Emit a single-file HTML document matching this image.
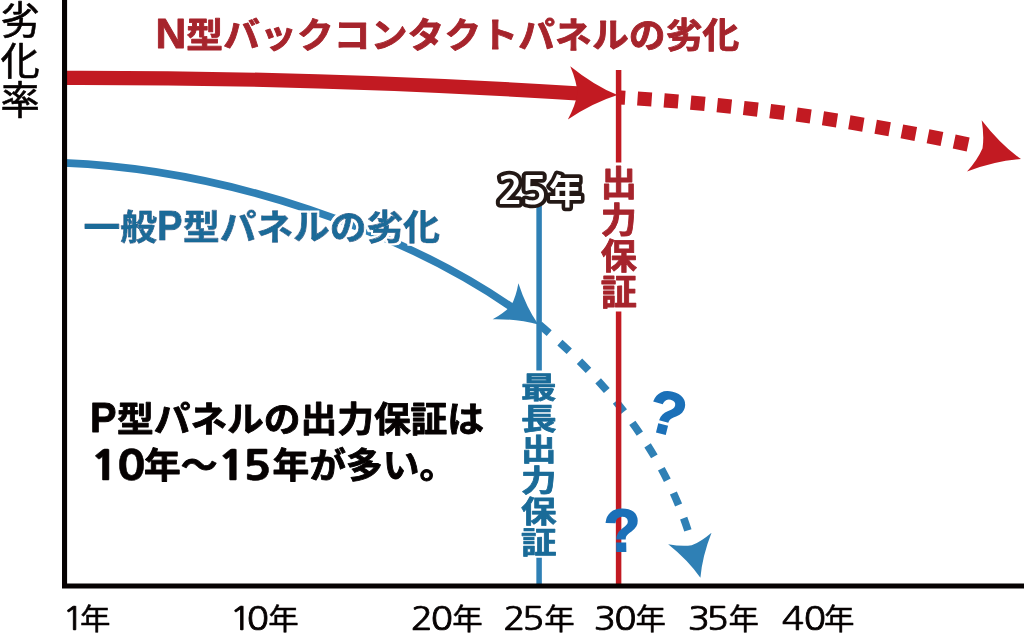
<!DOCTYPE html>
<html lang="ja">
<head>
<meta charset="utf-8">
<title>N型バックコンタクトパネルの劣化</title>
<style>
html,body{margin:0;padding:0;background:#fff;}
body{width:1024px;height:636px;overflow:hidden;font-family:"Liberation Sans","Noto Sans CJK JP",sans-serif;}
svg{display:block;}
</style>
</head>
<body>
<svg width="1024" height="636" viewBox="0 0 1024 636">
<defs>
<filter id="halo" x="-5%" y="-20%" width="110%" height="140%">
<feMorphology in="SourceAlpha" operator="dilate" radius="2" result="d"/>
<feFlood flood-color="#fff"/>
<feComposite in2="d" operator="in" result="h"/>
<feMerge><feMergeNode in="h"/><feMergeNode in="SourceGraphic"/></feMerge>
</filter>
</defs>
<rect width="1024" height="636" fill="#fff"/>
<path d="M64,162.9 C228,169.6 402.6,231.1 515,309.5" fill="none" stroke="#2f80b5" stroke-width="7.6"/>
<path d="M0,0 Q-24.25,-8.75 -48.5,-26.7 Q-41.5,-12.02 -40,0 Q-41.5,12.02 -48.5,26.7 Q-24.25,8.75 0,0 Z" fill="#2f80b5" transform="translate(538.3,324.6) rotate(35.5) scale(0.83)"/>
<path d="M538,323.5 C592.3,368.65 661.9,441.4 690.5,538.9" fill="none" stroke="#2f80b5" stroke-width="7.6" stroke-dasharray="13 14.1" stroke-dashoffset="25.1"/>
<path d="M0,0 Q-24.25,-8.75 -48.5,-26.7 Q-41.5,-12.02 -40,0 Q-41.5,12.02 -48.5,26.7 Q-24.25,8.75 0,0 Z" fill="#2f80b5" transform="translate(700.4,577.8) rotate(75) scale(0.84)"/>
<path d="M539.1,193 V370.6 M539.1,557.8 V586" stroke="#2f80b5" stroke-width="5.5" fill="none"/>
<path d="M617,97.3 Q793,107.0 972,145.3" fill="none" stroke="#c21a22" stroke-width="14.2" stroke-dasharray="14.2 12.45" stroke-dashoffset="6"/>
<path d="M64,77.8 C250,77.4 420,83.4 585,93.9" fill="none" stroke="#c21a22" stroke-width="14.2"/>
<path d="M0,0 Q-24.25,-8.75 -48.5,-26.7 Q-41.5,-12.02 -40,0 Q-41.5,12.02 -48.5,26.7 Q-24.25,8.75 0,0 Z" fill="#c21a22" transform="translate(617.5,95.1) rotate(2.6) scale(1.0)"/>
<path d="M0,0 Q-24.25,-8.75 -48.5,-26.7 Q-41.5,-12.02 -40,0 Q-41.5,12.02 -48.5,26.7 Q-24.25,8.75 0,0 Z" fill="#c21a22" transform="translate(1021,159.1) rotate(15.9) scale(1.0)"/>
<path d="M618.6,70 V162.6 M618.6,311.5 V586" stroke="#c21a22" stroke-width="5.5" fill="none"/>
<path d="M64.55,0 V585.95 H1024" fill="none" stroke="#060202" stroke-width="5.1" stroke-linejoin="miter"/>
<text transform="translate(155.6,48.4) scale(1.0,1)" x="0" y="0" font-family='"Liberation Sans",sans-serif' font-weight="bold" font-size="42.6" fill="#a6242c"  stroke="#a6242c" stroke-width="0.85" stroke-linejoin="round">N</text>
<text transform="translate(186.3,47.6) scale(1.06,1)" x="0.00 34.79 69.58 104.38 139.17 173.96 208.75 243.55 278.34 313.13 347.92 382.72 417.51 452.30 487.09" y="0" font-family='"Liberation Sans","Noto Sans CJK JP",sans-serif' font-weight="bold" font-size="34.7" fill="#a6242c"  stroke="#a6242c" stroke-width="0.85" stroke-linejoin="round">型バックコンタクトパネルの劣化</text>
<text transform="translate(83.5,240) scale(1.06,1)" x="0.00 34.62" y="0" font-family='"Liberation Sans","Noto Sans CJK JP",sans-serif' font-weight="bold" font-size="34.7" fill="#1a6b98" filter="url(#halo)" stroke="#1a6b98" stroke-width="0.85" stroke-linejoin="round">一般</text>
<text transform="translate(157,239.5) scale(0.9,1)" x="0" y="0" font-family='"Liberation Sans",sans-serif' font-weight="bold" font-size="42.6" fill="#1a6b98" filter="url(#halo)" stroke="#1a6b98" stroke-width="0.85" stroke-linejoin="round">P</text>
<text transform="translate(183,240) scale(1.06,1)" x="0.00 34.62 69.25 103.87 138.49 173.11 207.74" y="0" font-family='"Liberation Sans","Noto Sans CJK JP",sans-serif' font-weight="bold" font-size="34.7" fill="#1a6b98" filter="url(#halo)" stroke="#1a6b98" stroke-width="0.85" stroke-linejoin="round">型パネルの劣化</text>
<text transform="translate(90.0,432.4) scale(0.915,1)" x="0" y="0" font-family='"Liberation Sans",sans-serif' font-weight="bold" font-size="43.4" fill="#060202"  stroke="#060202" stroke-width="0.85" stroke-linejoin="round">P</text>
<text transform="translate(117,431.9) scale(1.06,1)" x="0.00 34.62 69.25 103.87 138.49 173.11 207.74 242.36 276.98 311.60" y="0" font-family='"Liberation Sans","Noto Sans CJK JP",sans-serif' font-weight="bold" font-size="34.7" fill="#060202"  stroke="#060202" stroke-width="0.85" stroke-linejoin="round">型パネルの出力保証は</text>
<text transform="translate(90.5,479.6) scale(1.19,1)" x="0.00 22.02" y="0" font-family='NanumGothic,"Liberation Sans",sans-serif' font-weight="800" font-size="39.5" fill="#060202"  stroke="#060202" stroke-width="0.5" stroke-linejoin="round">10</text>
<text transform="translate(144,478.2) scale(1.06,1)" x="0.00 34.62" y="0" font-family='"Liberation Sans","Noto Sans CJK JP",sans-serif' font-weight="bold" font-size="34.7" fill="#060202"  stroke="#060202" stroke-width="0.85" stroke-linejoin="round">年〜</text>
<text transform="translate(217.7,479.6) scale(1.19,1)" x="0.00 21.01" y="0" font-family='NanumGothic,"Liberation Sans",sans-serif' font-weight="800" font-size="39.5" fill="#060202"  stroke="#060202" stroke-width="0.5" stroke-linejoin="round">15</text>
<text transform="translate(272.6,478.2) scale(1.06,1)" x="0.00 34.62 69.25 103.87 138.49" y="0" font-family='"Liberation Sans","Noto Sans CJK JP",sans-serif' font-weight="bold" font-size="34.7" fill="#060202"  stroke="#060202" stroke-width="0.85" stroke-linejoin="round">年が多い。</text>
<text transform="translate(497.6,204.4) scale(1.1,1)" x="0.00 21.55" y="0" font-family='NanumGothic,"Liberation Sans",sans-serif' font-weight="700" font-size="38.3" fill="#fff" stroke="#231815" stroke-width="7.4" paint-order="stroke" stroke-linejoin="round">25</text>
<text transform="translate(548.8,204.1) scale(0.98,1)" x="0" y="0" font-family='"Liberation Sans","Noto Sans CJK JP",sans-serif' font-weight="bold" font-size="34.2" fill="#fff" stroke="#231815" stroke-width="7.4" paint-order="stroke" stroke-linejoin="round">年</text>
<text transform="translate(618.7,197.5) scale(1.04,1)" text-anchor="middle" font-family='"Liberation Sans","Noto Sans CJK JP",sans-serif' font-weight="bold" font-size="34.7" fill="#a6242c"  stroke="#a6242c" stroke-width="0.85" stroke-linejoin="round"><tspan x="0" y="-2.00">出</tspan><tspan x="0" y="35.70">力</tspan><tspan x="0" y="71.90">保</tspan><tspan x="0" y="107.90">証</tspan></text>
<text transform="translate(538.7,397.7) scale(1.025,0.85)" text-anchor="middle" font-family='"Liberation Sans","Noto Sans CJK JP",sans-serif' font-weight="bold" font-size="34.7" fill="#1a6b98"  stroke="#1a6b98" stroke-width="0.85" stroke-linejoin="round"><tspan x="0" y="0.00">最</tspan><tspan x="0" y="36.59">長</tspan><tspan x="0" y="73.18">出</tspan><tspan x="0" y="109.76">力</tspan><tspan x="0" y="146.35">保</tspan><tspan x="0" y="182.94">証</tspan></text>
<text transform="translate(20.2,34.3) scale(1.02,1)" text-anchor="middle" font-family='"Liberation Sans","Noto Sans CJK JP",sans-serif' font-weight="400" font-size="38.5" fill="#060202"  stroke="#060202" stroke-width="0.6" stroke-linejoin="round"><tspan x="0" y="0.00">劣</tspan><tspan x="0" y="40.50">化</tspan><tspan x="0" y="79.40">率</tspan></text>
<text transform="translate(644.5,428.8) rotate(14)" font-family='"Liberation Sans",sans-serif' font-weight="bold" font-size="60" fill="#1b70b8" stroke="#1b70b8" stroke-width="1.6">?</text>
<text transform="translate(604.2,551.4) rotate(-1)" font-family='"Liberation Sans",sans-serif' font-weight="bold" font-size="60" fill="#1b70b8" stroke="#1b70b8" stroke-width="1.6">?</text>
<text transform="translate(62.37,630.0) scale(1.15,1)" x="0.00" y="0" font-family='NanumGothic,"Liberation Sans",sans-serif' font-weight="400" font-size="32" fill="#060202"  stroke="#060202" stroke-width="0.75" stroke-linejoin="round">1</text>
<text transform="translate(80.08,629.5) scale(1.05,1)" x="0" y="0" font-family='"Liberation Sans","Noto Sans CJK JP",sans-serif' font-weight="400" font-size="29.0" fill="#060202"  stroke="#060202" stroke-width="0.45" stroke-linejoin="round">年</text>
<text transform="translate(229.47,630.0) scale(1.15,1)" x="0.00 15.11" y="0" font-family='NanumGothic,"Liberation Sans",sans-serif' font-weight="400" font-size="32" fill="#060202"  stroke="#060202" stroke-width="0.75" stroke-linejoin="round">10</text>
<text transform="translate(268.28,629.5) scale(1.05,1)" x="0" y="0" font-family='"Liberation Sans","Noto Sans CJK JP",sans-serif' font-weight="400" font-size="29.0" fill="#060202"  stroke="#060202" stroke-width="0.45" stroke-linejoin="round">年</text>
<text transform="translate(410.82,630.0) scale(1.15,1)" x="0.00 17.34" y="0" font-family='NanumGothic,"Liberation Sans",sans-serif' font-weight="400" font-size="32" fill="#060202"  stroke="#060202" stroke-width="0.75" stroke-linejoin="round">20</text>
<text transform="translate(452.18,629.5) scale(1.05,1)" x="0" y="0" font-family='"Liberation Sans","Noto Sans CJK JP",sans-serif' font-weight="400" font-size="29.0" fill="#060202"  stroke="#060202" stroke-width="0.45" stroke-linejoin="round">年</text>
<text transform="translate(503.22,630.0) scale(1.15,1)" x="0.00 16.40" y="0" font-family='NanumGothic,"Liberation Sans",sans-serif' font-weight="400" font-size="32" fill="#060202"  stroke="#060202" stroke-width="0.75" stroke-linejoin="round">25</text>
<text transform="translate(544.18,629.5) scale(1.05,1)" x="0" y="0" font-family='"Liberation Sans","Noto Sans CJK JP",sans-serif' font-weight="400" font-size="29.0" fill="#060202"  stroke="#060202" stroke-width="0.45" stroke-linejoin="round">年</text>
<text transform="translate(593.74,630.0) scale(1.15,1)" x="0.00 17.75" y="0" font-family='NanumGothic,"Liberation Sans",sans-serif' font-weight="400" font-size="32" fill="#060202"  stroke="#060202" stroke-width="0.75" stroke-linejoin="round">30</text>
<text transform="translate(635.58,629.5) scale(1.05,1)" x="0" y="0" font-family='"Liberation Sans","Noto Sans CJK JP",sans-serif' font-weight="400" font-size="29.0" fill="#060202"  stroke="#060202" stroke-width="0.45" stroke-linejoin="round">年</text>
<text transform="translate(687.64,630.0) scale(1.15,1)" x="0.00 16.38" y="0" font-family='NanumGothic,"Liberation Sans",sans-serif' font-weight="400" font-size="32" fill="#060202"  stroke="#060202" stroke-width="0.75" stroke-linejoin="round">35</text>
<text transform="translate(728.48,629.5) scale(1.05,1)" x="0" y="0" font-family='"Liberation Sans","Noto Sans CJK JP",sans-serif' font-weight="400" font-size="29.0" fill="#060202"  stroke="#060202" stroke-width="0.45" stroke-linejoin="round">年</text>
<text transform="translate(781.85,630.0) scale(1.15,1)" x="0.00 19.05" y="0" font-family='NanumGothic,"Liberation Sans",sans-serif' font-weight="400" font-size="32" fill="#060202"  stroke="#060202" stroke-width="0.75" stroke-linejoin="round">40</text>
<text transform="translate(823.98,629.5) scale(1.05,1)" x="0" y="0" font-family='"Liberation Sans","Noto Sans CJK JP",sans-serif' font-weight="400" font-size="29.0" fill="#060202"  stroke="#060202" stroke-width="0.45" stroke-linejoin="round">年</text>
</svg>
</body>
</html>
